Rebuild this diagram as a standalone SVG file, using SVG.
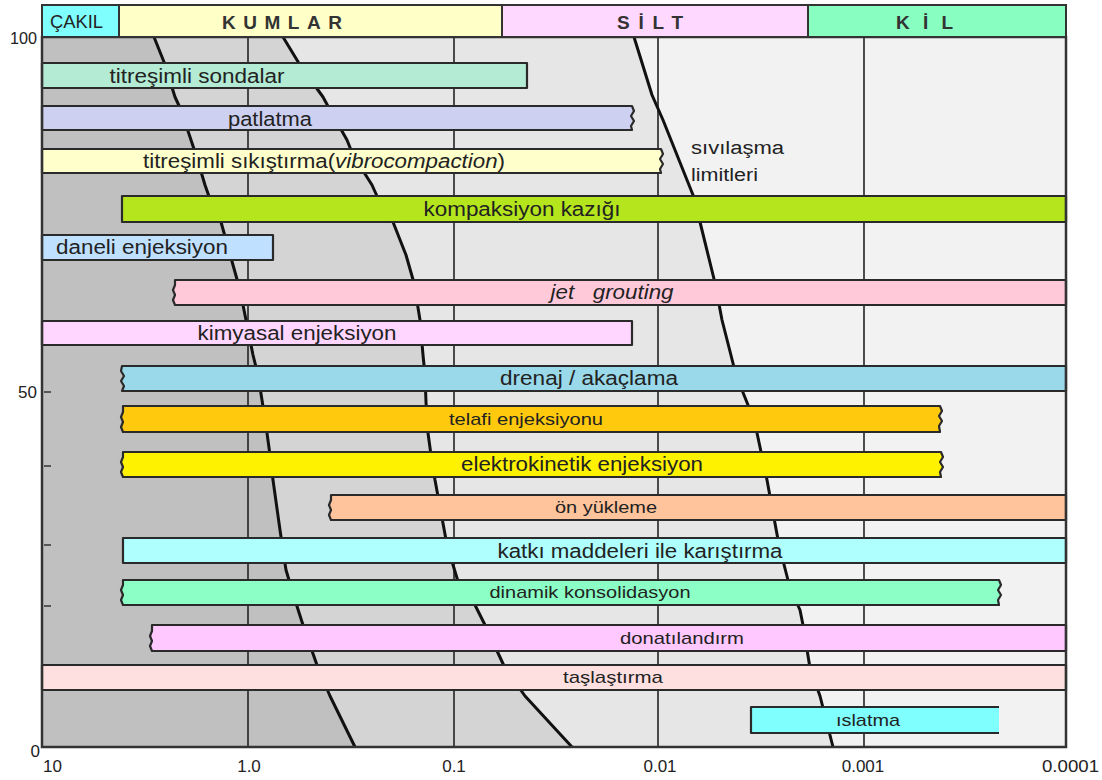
<svg xmlns="http://www.w3.org/2000/svg" width="1102" height="780" viewBox="0 0 1102 780">
<style>
text{font-family:"Liberation Sans",Arial,sans-serif;fill:#222}
.hd{font-size:19px;font-weight:bold;fill:#333}
.bt{font-size:19.5px;text-anchor:middle}
.bs{font-size:17px;text-anchor:middle}
.ax{font-size:17px;fill:#222}
.bar{stroke:#2a2a2a;stroke-width:2.2;stroke-linejoin:round}
.grid{stroke:#222;stroke-width:1.6}
.curve{fill:none;stroke:#111;stroke-width:3;stroke-linejoin:round}
.hbox{stroke:#333;stroke-width:2}
</style>
<rect width="1102" height="780" fill="#fff"/>
<g id="background">
<rect x="42" y="37" width="1024" height="710" fill="#f2f2f2"/>
<polygon fill="#e6e6e6" points="42,37 634,37 652,95 663,120 693,195 700,222 715,283 722,320 736,375 750,410 757,433 767,480 779,545 790,588 800,610 803,625 810,668 820,696 833,747 42,747"/>
<polygon fill="#d4d4d4" points="42,37 283,37 300,65 323,97 330,110 347,140 353,155 372,185 381,205 393,222 406,255 414,283 420,320 423,355 425,375 426,402 428,433 431,455 435,480 447,545 460,588 475,605 485,625 505,668 525,696 572,747 42,747"/>
<polygon fill="#c0c0c0" points="42,37 154,37 164,62 175,97 181,110 191,140 196,155 205,185 212,205 221,222 233,265 240,290 246,320 253,355 258,375 262,400 267,433 270,455 273,480 280,530 286,570 295,600 303,625 318,668 330,696 355,747 42,747"/>
<line class="grid" x1="248" y1="37" x2="248" y2="747"/>
<line class="grid" x1="454" y1="37" x2="454" y2="747"/>
<line class="grid" x1="658" y1="37" x2="658" y2="747"/>
<line class="grid" x1="864" y1="37" x2="864" y2="747"/>
<g stroke="#333" stroke-width="1.5">
<line x1="44" y1="392" x2="51" y2="392"/>
<line x1="44" y1="466" x2="51" y2="466"/>
<line x1="44" y1="545" x2="51" y2="545"/>
<line x1="44" y1="606" x2="51" y2="606"/>
</g>
</g>
<g id="connectors">
<polyline class="curve" points="154,37 164,62 175,97 181,110 191,140 196,155 205,185 212,205 221,222 233,265 240,290 246,320 253,355 258,375 262,400 267,433 270,455 273,480 280,530 286,570 295,600 303,625 318,668 330,696 355,747"/>
<polyline class="curve" points="283,37 300,65 323,97 330,110 347,140 353,155 372,185 381,205 393,222 406,255 414,283 420,320 423,355 425,375 426,402 428,433 431,455 435,480 447,545 460,588 475,605 485,625 505,668 525,696 572,747"/>
<polyline class="curve" stroke-width="2.5" points="634,37 652,95 663,120 693,195 700,222 715,283 722,320 736,375 750,410 757,433 767,480 779,545 790,588 800,610 803,625 810,668 820,696 833,747"/>
</g>
<g id="liquefaction-label">
<text x="691" y="154" font-size="18" fill="#333" textLength="93" lengthAdjust="spacingAndGlyphs">sıvılaşma</text>
<text x="691" y="181" font-size="18" fill="#333" textLength="67" lengthAdjust="spacingAndGlyphs">limitleri</text>
</g>
<g id="bar-titresimli-sondalar">
<rect class="bar" x="42" y="63" width="485" height="25" fill="#b4ebd4"/>
<text class="bt" x="197" y="83" textLength="175" lengthAdjust="spacingAndGlyphs">titreşimli sondalar</text>
</g>
<g id="bar-patlatma">
<path class="bar" fill="#cdd0f0" d="M42,106 H632 l2,5 l-3,5 l3,5 l-3,5 L632,130 H42 Z"/>
<text class="bt" x="270" y="126" textLength="84" lengthAdjust="spacingAndGlyphs">patlatma</text>
</g>
<g id="bar-titresimli-sikistirma">
<path class="bar" fill="#ffffcc" d="M42,149 H661 l2,5 l-3,5 l3,5 l-3,5 L661,173 H42 Z"/>
<text class="bt" x="324" y="168" textLength="362" lengthAdjust="spacingAndGlyphs">titreşimli sıkıştırma(<tspan font-style="italic">vibrocompaction</tspan>)</text>
</g>
<g id="bar-kompaksiyon-kazigi">
<rect class="bar" x="122" y="196" width="944" height="26" fill="#b5e61d"/>
<text class="bt" x="522" y="216" textLength="197" lengthAdjust="spacingAndGlyphs">kompaksiyon kazığı</text>
</g>
<g id="bar-daneli-enjeksiyon">
<rect class="bar" x="42" y="235" width="231" height="25" fill="#bfe0ff"/>
<text class="bt" x="142" y="254" textLength="172" lengthAdjust="spacingAndGlyphs">daneli enjeksiyon</text>
</g>
<g id="bar-jet-grouting">
<path class="bar" fill="#ffc9da" d="M175,280 H1066 V305 H175 l-2,-5 l2,-5 l-2,-5 l2,-5 Z"/>
<text class="bt" x="612" y="299" font-style="italic" textLength="123" lengthAdjust="spacingAndGlyphs" xml:space="preserve">jet   grouting</text>
</g>
<g id="bar-kimyasal-enjeksiyon">
<rect class="bar" x="42" y="321" width="590" height="24" fill="#ffd6ff"/>
<text class="bt" x="297" y="340" textLength="199" lengthAdjust="spacingAndGlyphs">kimyasal enjeksiyon</text>
</g>
<g id="bar-drenaj">
<path class="bar" fill="#99d9ea" d="M122,366 H1066 V391 H122 l2,-5 l-3,-5 l3,-5 l-3,-5 Z"/>
<text class="bt" x="589" y="385" textLength="178" lengthAdjust="spacingAndGlyphs">drenaj / akaçlama</text>
</g>
<g id="bar-telafi-enjeksiyonu">
<path class="bar" fill="#ffc90e" d="M123,406 H940 l2,5 l-3,5 l3,5 l-3,5 L940,432 H123 l-2,-5 l2,-5 l-2,-5 l2,-5 Z"/>
<text class="bs" x="526" y="425" textLength="154" lengthAdjust="spacingAndGlyphs">telafi enjeksiyonu</text>
</g>
<g id="bar-elektrokinetik-enjeksiyon">
<path class="bar" fill="#fff200" d="M123,452 H941 l2,5 l-3,5 l3,5 l-3,5 L941,477 H123 l-2,-5 l2,-5 l-2,-5 l2,-5 Z"/>
<text class="bt" x="582" y="471" textLength="242" lengthAdjust="spacingAndGlyphs">elektrokinetik enjeksiyon</text>
</g>
<g id="bar-on-yukleme">
<path class="bar" fill="#ffc49b" d="M331,495 H1066 V520 H331 l-2,-5 l2,-5 l-2,-5 l2,-5 Z"/>
<text class="bs" x="606" y="513" textLength="102" lengthAdjust="spacingAndGlyphs">ön yükleme</text>
</g>
<g id="bar-katki-maddeleri">
<rect class="bar" x="123" y="538" width="943" height="25" fill="#afffff"/>
<text class="bt" x="640" y="558" textLength="285" lengthAdjust="spacingAndGlyphs">katkı maddeleri ile karıştırma</text>
</g>
<g id="bar-dinamik-konsolidasyon">
<path class="bar" fill="#8cffc6" d="M123,580 H999 l2,5 l-3,5 l3,5 l-3,5 L999,605 H123 l-2,-5 l2,-5 l-2,-5 l2,-5 Z"/>
<text class="bs" x="590" y="598" textLength="201" lengthAdjust="spacingAndGlyphs">dinamik konsolidasyon</text>
</g>
<g id="bar-donatilandirm">
<path class="bar" fill="#ffc8ff" d="M152,625 H1066 V651 H152 l-2,-5 l2,-5 l-2,-5 l2,-5 Z"/>
<text class="bs" x="682" y="644" textLength="124" lengthAdjust="spacingAndGlyphs">donatılandırm</text>
</g>
<g id="bar-taslastirma">
<rect class="bar" x="42" y="665" width="1024" height="25" fill="#ffe0e0"/>
<text class="bs" x="613" y="683" textLength="100" lengthAdjust="spacingAndGlyphs">taşlaştırma</text>
</g>
<g id="bar-islatma">
<rect x="751" y="707" width="248" height="26" fill="#80ffff"/>
<path class="bar" fill="none" d="M999,707 H751 V733 H999"/>
<text class="bs" x="868" y="726" textLength="64" lengthAdjust="spacingAndGlyphs">ıslatma</text>
</g>
<g id="frame">
<rect x="42" y="37" width="1024" height="710" fill="none" stroke="#333" stroke-width="2.5"/>
</g>
<g id="header">
<rect class="hbox" x="42" y="5" width="77" height="32" fill="#80ffff"/>
<rect class="hbox" x="119" y="5" width="383" height="32" fill="#ffffc8"/>
<rect class="hbox" x="502" y="5" width="306" height="32" fill="#ffd8ff"/>
<rect class="hbox" x="808" y="5" width="258" height="32" fill="#88ffc0"/>
<text x="50" y="28" font-size="19" fill="#333" textLength="53" lengthAdjust="spacingAndGlyphs">ÇAKIL</text>
<text class="hd" x="222" y="29" textLength="120" lengthAdjust="spacing">KUMLAR</text>
<text class="hd" x="617" y="29" textLength="66" lengthAdjust="spacing">SİLT</text>
<text class="hd" x="896" y="29" textLength="57" lengthAdjust="spacing">KİL</text>
</g>
<g id="axis-labels">
<text class="ax" x="37" y="44" text-anchor="end" textLength="27" lengthAdjust="spacingAndGlyphs">100</text>
<text class="ax" x="37" y="398" text-anchor="end">50</text>
<text class="ax" x="40" y="757" text-anchor="end">0</text>
<text class="ax" x="43" y="772">10</text>
<text class="ax" x="249" y="772" text-anchor="middle">1.0</text>
<text class="ax" x="454" y="772" text-anchor="middle">0.1</text>
<text class="ax" x="660" y="772" text-anchor="middle">0.01</text>
<text class="ax" x="863" y="772" text-anchor="middle">0.001</text>
<text class="ax" x="1099" y="772" text-anchor="end" textLength="57" lengthAdjust="spacingAndGlyphs">0.0001</text>
</g>
</svg>
